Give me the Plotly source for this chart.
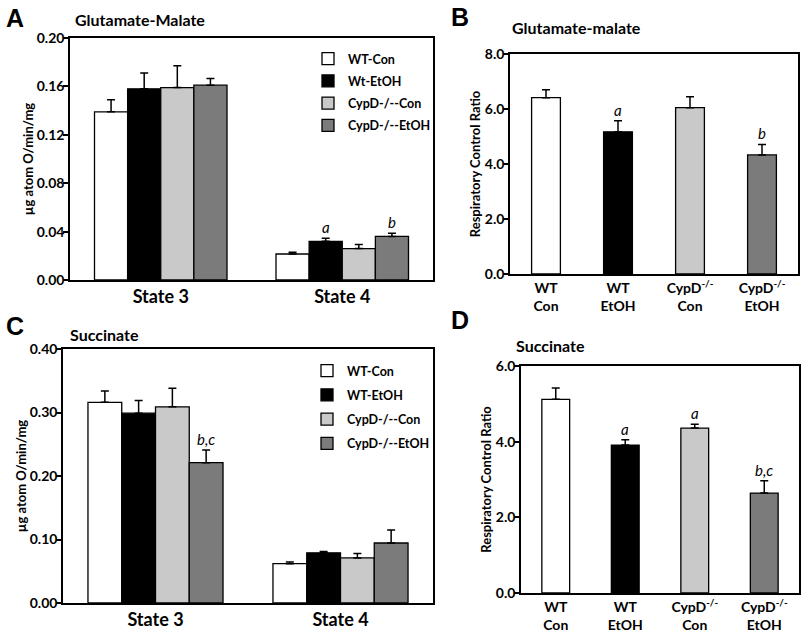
import plotly.graph_objects as go

W, H = 807, 632
FONT = "Lato"

# ---------------- data ----------------
states = ["State 3", "State 4"]
legend_A = ["WT-Con", "Wt-EtOH", "CypD-/--Con", "CypD-/--EtOH"]
legend_C = ["WT-Con", "WT-EtOH", "CypD-/--Con", "CypD-/--EtOH"]

# Panel A: glutamate-malate oxygen consumption (State 3, State 4)
A_wt_con = [0.139, 0.0215]
A_wt_etoh = [0.158, 0.032]
A_ko_con = [0.159, 0.026]
A_ko_etoh = [0.161, 0.036]
A_wt_con_err = [0.010, 0.0014]
A_wt_etoh_err = [0.013, 0.0025]
A_ko_con_err = [0.018, 0.0033]
A_ko_etoh_err = [0.0055, 0.0026]

# Panel C: succinate oxygen consumption (State 3, State 4)
C_wt_con = [0.316, 0.062]
C_wt_etoh = [0.299, 0.079]
C_ko_con = [0.309, 0.071]
C_ko_etoh = [0.221, 0.0945]
C_wt_con_err = [0.018, 0.0027]
C_wt_etoh_err = [0.020, 0.002]
C_ko_con_err = [0.029, 0.007]
C_ko_etoh_err = [0.020, 0.0205]

# Panels B and D: respiratory control ratio
groups = ["WT<br>Con", "WT<br>EtOH", "CypD<sup>-/-</sup><br>Con", "CypD<sup>-/-</sup><br>EtOH"]
B_rcr = [6.41, 5.17, 6.05, 4.33]
B_rcr_err = [0.29, 0.40, 0.40, 0.38]
D_rcr = [5.12, 3.91, 4.36, 2.64]
D_rcr_err = [0.30, 0.14, 0.10, 0.33]

colors = ["#ffffff", "#000000", "#c9c9c9", "#7b7b7b"]

# ---------------- helpers ----------------
def px_x(a, b):
    return [a / W, b / W]

def px_y(top, bottom):
    return [1 - bottom / H, 1 - top / H]

BARGAP = 0.27
bw = (1 - BARGAP) / 4

def offs(i):
    return (i - 1.5) * bw

def err(arr):
    return dict(type="data", symmetric=False, array=arr, arrayminus=[0] * len(arr),
                color="black", thickness=1.5, width=4)

fig = go.Figure()

A_vals = [A_wt_con, A_wt_etoh, A_ko_con, A_ko_etoh]
A_errs = [A_wt_con_err, A_wt_etoh_err, A_ko_con_err, A_ko_etoh_err]
C_vals = [C_wt_con, C_wt_etoh, C_ko_con, C_ko_etoh]
C_errs = [C_wt_con_err, C_wt_etoh_err, C_ko_con_err, C_ko_etoh_err]

for i in range(4):
    fig.add_trace(go.Bar(x=states, y=A_vals[i], error_y=err(A_errs[i]), name=legend_A[i],
                         marker=dict(color=colors[i], line=dict(color="black", width=1.3)),
                         xaxis="x", yaxis="y", legend="legend", legendgroup=f"a{i}"))
for i in range(4):
    fig.add_trace(go.Bar(x=states, y=C_vals[i], error_y=err(C_errs[i]), name=legend_C[i],
                         marker=dict(color=colors[i], line=dict(color="black", width=1.3)),
                         xaxis="x3", yaxis="y3", legend="legend2", legendgroup=f"c{i}"))

fig.add_trace(go.Bar(x=groups, y=B_rcr, error_y=err(B_rcr_err), width=0.4, showlegend=False,
                     marker=dict(color=colors, line=dict(color="black", width=1.3)),
                     xaxis="x2", yaxis="y2"))
fig.add_trace(go.Bar(x=groups, y=D_rcr, error_y=err(D_rcr_err), width=0.4, showlegend=False,
                     marker=dict(color=colors, line=dict(color="black", width=1.3)),
                     xaxis="x4", yaxis="y4"))

axis_common = dict(showline=True, linecolor="black", linewidth=1.5, mirror=True,
                   showgrid=False, zeroline=False, automargin=False)
tickfont = dict(family=FONT, size=14, color="black", weight="bold")

def yax(domain, rng, dtick, fmt, title, anchor, tsize, standoff):
    return dict(domain=domain, range=rng, dtick=dtick, tickformat=fmt, anchor=anchor,
                ticks="outside", ticklen=5, tickwidth=1.5, tickcolor="black",
                tickfont=tickfont, ticklabelstandoff=-4,
                title=dict(text=title, font=dict(family=FONT, size=tsize, color="black", weight="bold"),
                           standoff=standoff),
                **axis_common)

def xax(domain, rng, anchor, size):
    return dict(domain=domain, range=rng, anchor=anchor, ticks="",
                tickfont=dict(family=FONT, size=size, color="black", weight="bold"),
                **axis_common)

leg_font = dict(family=FONT, size=12.5, color="black", weight="bold")

fig.update_layout(
    width=W, height=H, margin=dict(l=0, r=0, t=0, b=0, autoexpand=False),
    paper_bgcolor="white", plot_bgcolor="white",
    barmode="group", bargap=BARGAP, bargroupgap=0,
    showlegend=True,
    xaxis=xax(px_x(70, 433), [-0.5, 1.5], "y", 18),
    yaxis=yax(px_y(38, 280), [0, 0.2], 0.04, ".2f", "µg atom O/min/mg", "x", 13, 0),
    xaxis2=xax(px_x(510, 798), [-0.5, 3.5], "y2", 14),
    yaxis2=yax(px_y(54, 274), [0, 8], 2, ".1f", "Respiratory Control Ratio", "x2", 13, 1),
    xaxis3=xax(px_x(63, 433), [-0.5, 1.5], "y3", 18),
    yaxis3=yax(px_y(349, 603), [0, 0.4], 0.1, ".2f", "µg atom O/min/mg", "x3", 13, 0),
    xaxis4=xax(px_x(521, 799), [-0.5, 3.5], "y4", 14),
    yaxis4=yax(px_y(366, 593), [0, 6], 2, ".1f", "Respiratory Control Ratio", "x4", 13, 1),
    legend=dict(x=308 / W, y=1 - 44 / H, xanchor="left", yanchor="top", font=leg_font,
                bgcolor="rgba(0,0,0,0)", tracegroupgap=3, itemwidth=30),
    legend2=dict(x=307 / W, y=1 - 356 / H, xanchor="left", yanchor="top", font=leg_font,
                 bgcolor="rgba(0,0,0,0)", tracegroupgap=5, itemwidth=30),
)

ann = []
def panel_letter(t, x, y):
    ann.append(dict(text=t, x=x / W, y=1 - y / H, xref="paper", yref="paper", showarrow=False,
                    xanchor="left", yanchor="middle",
                    font=dict(family="Liberation Sans", size=25, color="black", weight="bold")))

def panel_title(t, x, y):
    ann.append(dict(text=t, x=x / W, y=1 - y / H, xref="paper", yref="paper", showarrow=False,
                    xanchor="left", yanchor="middle",
                    font=dict(family=FONT, size=16, color="black", weight="bold")))

def sig(t, x, y, xr, yr):
    ann.append(dict(text=f"<i>{t}</i>", x=x, y=y, xref=xr, yref=yr, showarrow=False,
                    xanchor="center", yanchor="bottom", yshift=0,
                    font=dict(family=FONT, size=15, color="black")))

panel_letter("A", 4, 18)
panel_letter("B", 449, 17)
panel_letter("C", 4, 326)
panel_letter("D", 449, 320)
panel_title("Glutamate-Malate", 73, 20)
panel_title("Glutamate-malate", 510, 27)
panel_title("Succinate", 68, 334)
panel_title("Succinate", 514, 345)

sig("a", 1 + offs(1), A_wt_etoh[1] + A_wt_etoh_err[1], "x", "y")
sig("b", 1 + offs(3), A_ko_etoh[1] + A_ko_etoh_err[1], "x", "y")
sig("b,c", 0 + offs(3), C_ko_etoh[0] + C_ko_etoh_err[0], "x3", "y3")
sig("a", 1, B_rcr[1] + B_rcr_err[1], "x2", "y2")
sig("b", 3, B_rcr[3] + B_rcr_err[3], "x2", "y2")
sig("a", 1, D_rcr[1] + D_rcr_err[1], "x4", "y4")
sig("a", 2, D_rcr[2] + D_rcr_err[2], "x4", "y4")
sig("b,c", 3, D_rcr[3] + D_rcr_err[3], "x4", "y4")

fig.update_layout(annotations=ann)

fig.write_html("out.html", config={"displayModeBar": False},
               post_script="document.body.style.margin='0';")
